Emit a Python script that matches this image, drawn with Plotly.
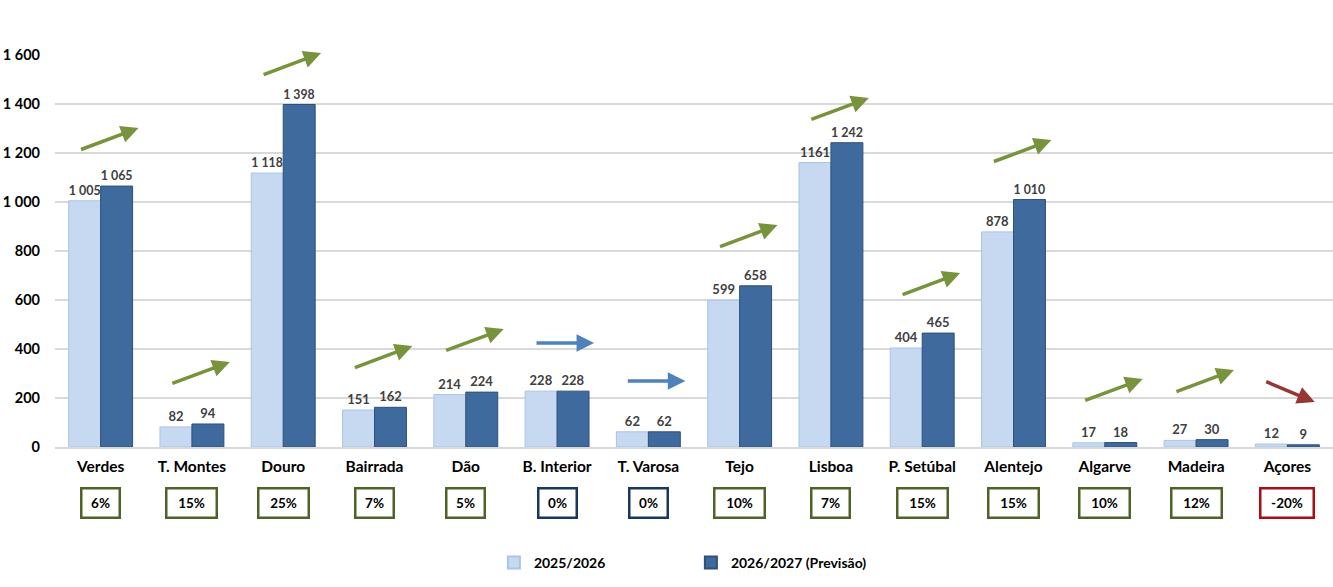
import plotly.graph_objects as go

categories = ["Verdes", "T. Montes", "Douro", "Bairrada", "Dão", "B. Interior", "T. Varosa",
              "Tejo", "Lisboa", "P. Setúbal", "Alentejo", "Algarve", "Madeira", "Açores"]
values_2025 = [1005, 82, 1118, 151, 214, 228, 62, 599, 1161, 404, 878, 17, 27, 12]
values_2026 = [1065, 94, 1398, 162, 224, 228, 62, 658, 1242, 465, 1010, 18, 30, 9]
pct_change = ["6%", "15%", "25%", "7%", "5%", "0%", "0%", "10%", "7%", "15%", "15%", "10%", "12%", "-20%"]
trend = [1, 1, 1, 1, 1, 0, 0, 1, 1, 1, 1, 1, 1, -1]
arrow_level = [1212, 257, 1518, 322, 392, 424, 269, 816, 1335, 620, 1163, 188, 224, 269]
y_ticks = [0, 200, 400, 600, 800, 1000, 1200, 1400, 1600]
y_tick_text = ["0", "200", "400", "600", "800", "1 000", "1 200", "1 400", "1 600"]
series_names = ["2025/2026", "2026/2027 (Previsão)"]


def fmt(v):
    return f"{v:,}".replace(",", " ")


labels_2025 = [fmt(v) for v in values_2025]
labels_2025[8] = "1161"
labels_2026 = [fmt(v) for v in values_2026]

FONT = "Lato"
LIGHT = "#C6D9F1"
DARK = "#3E6A9E"

fig = go.Figure()
fig.add_trace(go.Bar(
    x=categories, y=values_2025, name=series_names[0],
    marker=dict(color=LIGHT, line=dict(color="#A9C4E6", width=1)),
    text=labels_2025, textposition="outside", cliponaxis=False,
    textfont=dict(family=FONT, size=13, color="#404040", weight="bold"),
))
fig.add_trace(go.Bar(
    x=categories, y=values_2026, name=series_names[1],
    marker=dict(color=DARK, line=dict(color="#2E5079", width=1)),
    text=labels_2026, textposition="outside", cliponaxis=False,
    textfont=dict(family=FONT, size=13, color="#404040", weight="bold"),
))

annotations = []
for i, (p, t, lvl) in enumerate(zip(pct_change, trend, arrow_level)):
    if t > 0:
        col, border = "#77933C", "#4F6228"
        hx, ys, ax, ay = 0.415, 22, -59, 22
    elif t == 0:
        col, border = "#4F81BD", "#17375E"
        hx, ys, ax, ay = 0.405, 0, -59, 0
    else:
        col, border = "#953735", "#A50F15"
        hx, ys, ax, ay = 0.30, -21, -50, -21
    annotations.append(dict(
        x=i + hx, y=lvl, xref="x", yref="y", yshift=ys,
        ax=ax, ay=ay, axref="pixel", ayref="pixel",
        text="", showarrow=True, arrowhead=2, arrowsize=1, arrowwidth=3.5,
        arrowcolor=col, standoff=0, startstandoff=0,
    ))
    w = 30 if len(p) == 2 else (42 if len(p) == 3 else 45)
    annotations.append(dict(
        x=i, y=-0.143, xref="x", yref="paper", text=p, showarrow=False,
        font=dict(family=FONT, size=13.5, color="#000000", weight="bold"),
        bordercolor=border, borderwidth=2.5, borderpad=3, bgcolor="white",
        width=w, height=21, xanchor="center", yanchor="middle",
    ))

fig.update_layout(
    width=1333, height=587,
    margin=dict(l=55, r=0, t=55, b=140, autoexpand=False),
    paper_bgcolor="white", plot_bgcolor="white",
    barmode="group", bargap=0.3, bargroupgap=0,
    font=dict(family=FONT, color="#000000"),
    annotations=annotations,
    showlegend=True,
    legend=dict(
        orientation="h", xref="container", yref="container",
        x=0.3705, y=0.041, xanchor="left", yanchor="middle",
        entrywidth=152, entrywidthmode="pixels",
        font=dict(family=FONT, size=14, color="#000000", weight="bold"),
        itemsizing="constant",
    ),
)
fig.update_xaxes(
    type="category", showgrid=False, showline=True, linecolor="#D9D9D9", linewidth=1.5,
    ticks="", tickfont=dict(family=FONT, size=15.5, color="#000000", weight="bold"),
    ticklabelstandoff=5, automargin=False,
)
fig.update_yaxes(
    range=[0, 1600], tickvals=y_ticks, ticktext=y_tick_text,
    showgrid=True, gridcolor="#D9D9D9", gridwidth=1.5, zeroline=False, showline=False,
    tickfont=dict(family=FONT, size=14.5, color="#000000", weight="bold"),
    ticklabelstandoff=14, automargin=False,
)

fig.write_html("out.html", config={"displayModeBar": False},
               post_script="document.body.style.margin='0';")
